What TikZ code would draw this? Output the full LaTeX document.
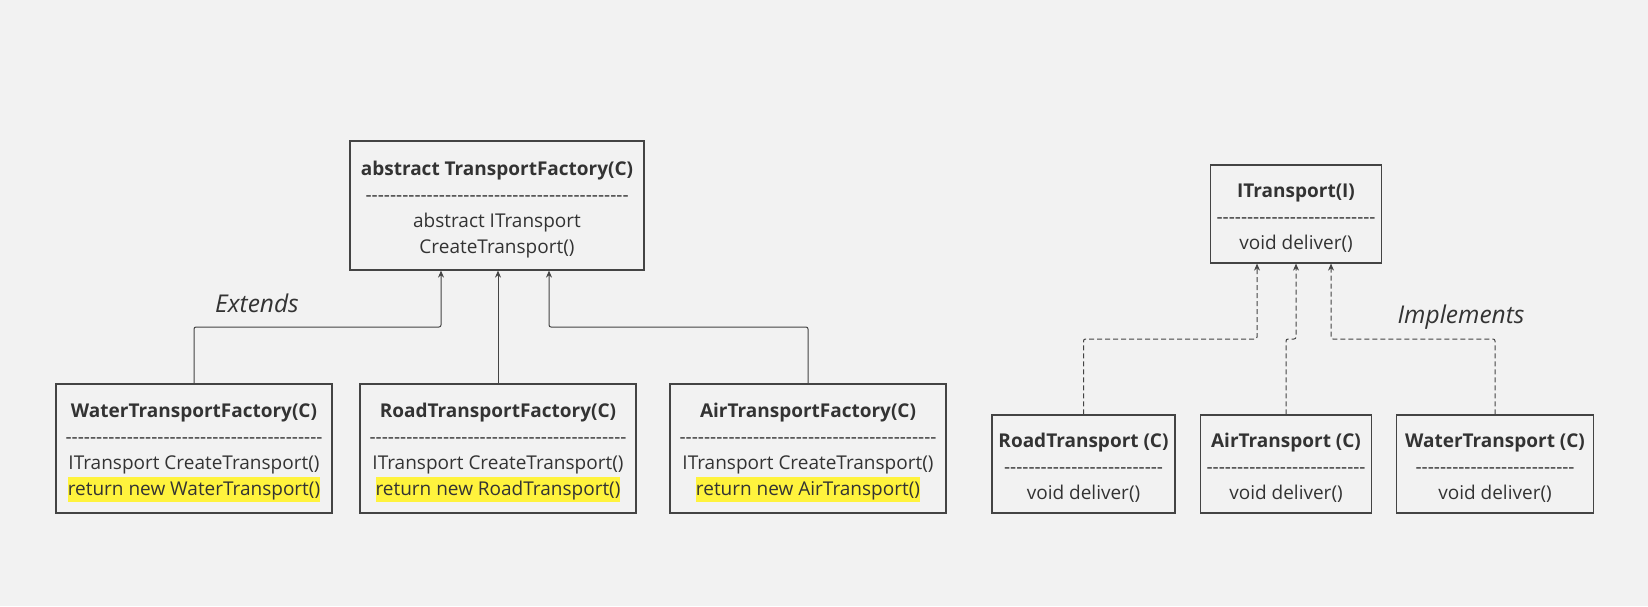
\documentclass[tikz,border=0pt]{standalone}
\usepackage{fontspec}
\setmainfont{Open Sans}
\usetikzlibrary{arrows.meta}
\definecolor{bg}{HTML}{F2F2F2}
\definecolor{ink}{HTML}{333333}
\definecolor{edge}{HTML}{444444}
\definecolor{hlyellow}{HTML}{FFF33D}
% class name line, with a strut that sets the text a little lower
\newcommand\clsname[1]{\rule{0pt}{22pt}\textbf{#1}}
% a row of hyphens under the class name
\newcommand\dashrow[1]{\foreach \k in {1,...,#1}{-\kern0pt}}
% marked return line
\newcommand\hlt[1]{{\setlength\fboxsep{0pt}\colorbox{hlyellow}{\rule[-6pt]{0pt}{25pt}#1}}}
\begin{document}
\begin{tikzpicture}[x=1pt,y=1pt,
    every node/.style={font=\fontsize{19}{26}\selectfont, text=ink},
    classbox/.style={draw=edge, line width=1.2pt, align=center, inner sep=0pt},
    factorybox/.style={classbox, minimum width=276pt, minimum height=129pt},
    productbox/.style={classbox, minimum height=98pt},
    extends/.style={draw=edge, line width=1pt, -{Stealth[length=7pt,width=6pt]}, rounded corners=2pt},
    implements/.style={extends, dash pattern=on 5pt off 3pt},
    relname/.style={font=\fontsize{24.5}{30}\selectfont\itshape}]
	\fill[bg] (0,0) rectangle (1648,-606);
	\useasboundingbox (0,0) rectangle (1648,-606);
	% factories
	\node[classbox, minimum width=294pt, minimum height=129pt] (fac) at (497,-205.5) {\clsname{abstract TransportFactory(C)}\\\dashrow{43}\\abstract ITransport\\CreateTransport()};
	\node[factorybox] (wfac) at (194,-448.5) {\clsname{WaterTransportFactory(C)}\\\dashrow{42}\\ITransport CreateTransport()\\\hlt{return new WaterTransport()}};
	\node[factorybox] (rfac) at (498,-448.5) {\clsname{RoadTransportFactory(C)}\\\dashrow{42}\\ITransport CreateTransport()\\\hlt{return new RoadTransport()}};
	\node[factorybox] (afac) at (808,-448.5) {\clsname{AirTransportFactory(C)}\\\dashrow{42}\\ITransport CreateTransport()\\\hlt{return new AirTransport()}};
	\node[relname] (extlbl) at (257,-303) {Extends};
	\draw[extends] (wfac.north) -- (wfac.north |- 0,-327) -| ([xshift=-56pt]fac.south);
	\draw[extends] (rfac.north) -- (rfac.north |- fac.south);
	\draw[extends] (afac.north) -- (afac.north |- 0,-327) -| ([xshift=52pt]fac.south);
	% products
	\node[classbox, minimum width=171pt, minimum height=98pt] (itrans) at (1296,-214) {\clsname{ITransport(I)}\\\dashrow{26}\\void deliver()};
	\node[productbox, minimum width=183pt] (road) at (1083.5,-464) {\clsname{RoadTransport (C)}\\\dashrow{26}\\void deliver()};
	\node[productbox, minimum width=170.5pt] (air) at (1286,-464) {\clsname{AirTransport (C)}\\\dashrow{26}\\void deliver()};
	\node[productbox, minimum width=196.5pt] (water) at (1495,-464) {\clsname{WaterTransport (C)}\\\dashrow{26}\\void deliver()};
	\node[relname] (implbl) at (1461,-317) {Implements};
	\draw[implements] (road.north) -- (road.north |- 0,-339) -| ([xshift=-39pt]itrans.south);
	\draw[implements] (air.north) -- (air.north |- 0,-339) -| (itrans.south);
	\draw[implements] (water.north) -- (water.north |- 0,-339) -| ([xshift=35pt]itrans.south);
\end{tikzpicture}
\end{document}
